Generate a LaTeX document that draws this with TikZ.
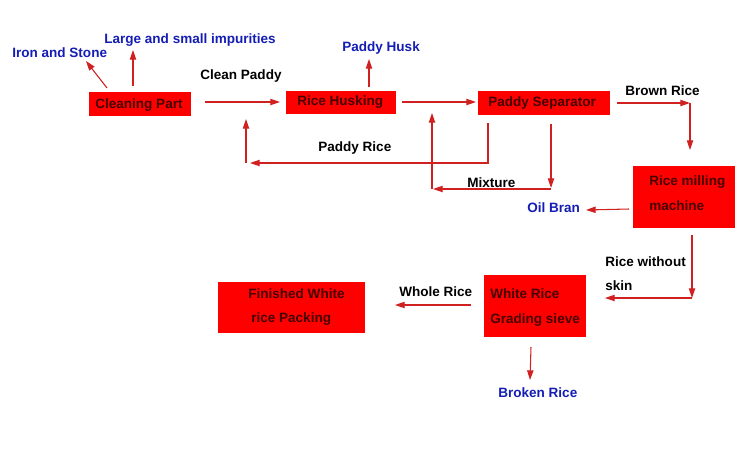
\documentclass[tikz,border=0pt]{standalone}
\usepackage{fontspec}
\setmainfont{Liberation Sans}
\usetikzlibrary{arrows.meta}
\definecolor{boxred}{RGB}{255,0,0}
\definecolor{linered}{RGB}{208,32,32}
\definecolor{lblblue}{RGB}{20,30,180}
\definecolor{boxtxt}{RGB}{70,0,0}
\begin{document}
\begin{tikzpicture}[x=0.02cm,y=-0.02cm,
  box/.style={draw=none,fill=boxred,inner sep=0pt,anchor=center},
  btxt/.style={text=boxtxt,font=\bfseries\fontsize{7.7}{14.2}\selectfont,anchor=west,inner sep=0pt,align=left},
  blk/.style={text=black,font=\bfseries\fontsize{7.7}{13.6}\selectfont,anchor=west,inner sep=0pt,align=left},
  blu/.style={text=lblblue,font=\bfseries\fontsize{7.7}{13.6}\selectfont,anchor=west,inner sep=0pt,align=left},
  arr/.style={draw=linered,line width=0.6pt,-{Triangle[length=5.5pt,width=3.6pt]}}]
\useasboundingbox (0,0) rectangle (750,450);
\fill[white] (0,0) rectangle (750,450);

% boxes
\node[box,minimum width=2.04cm,minimum height=0.48cm] (clean) at (140,104) {};
\node[box,minimum width=2.2cm,minimum height=0.46cm] (husk) at (341,102.5) {};
\node[box,minimum width=2.64cm,minimum height=0.48cm] (sep) at (544,103) {};
\node[box,minimum width=2.04cm,minimum height=1.24cm] (mill) at (684,197) {};
\node[box,minimum width=2.04cm,minimum height=1.24cm] (grade) at (535,306) {};
\node[box,minimum width=2.94cm,minimum height=1.02cm] (pack) at (291.5,307.5) {};

% box texts
\node[btxt] (tclean) at (95,105) {Cleaning Part};
\node[btxt] (thusk) at (297,102) {Rice Husking};
\node[btxt] (tsep) at (488,103) {Paddy Separator};
\node[btxt] (tmill) at (649,193.5) {Rice milling\\machine};
\node[btxt] (tgrade) at (490,307.5) {White Rice\\Grading sieve};
\node[btxt] (tpack1) at (248,294) {Finished White};
\node[btxt] (tpack2) at (251,319) {rice Packing};

% labels
\node[blu] (liron) at (12,53) {Iron and Stone};
\node[blu] (llarge) at (104,40) {Large and small impurities};
\node[blk] (lclean) at (200,76) {Clean Paddy};
\node[blu] (lhusk) at (342,48) {Paddy Husk};
\node[blk] (lbrown) at (625,91) {Brown Rice};
\node[blk] (lpaddy) at (318,148) {Paddy Rice};
\node[blk] (lmix) at (467,183) {Mixture};
\node[blu] (loil) at (527,208) {Oil Bran};
\node[blk] (lskin) at (605,274) {Rice without\\skin};
\node[blk] (lwhole) at (399,292) {Whole Rice};
\node[blu] (lbroken) at (498,393) {Broken Rice};

% connector end points
\coordinate (i1) at (107,88);  \coordinate (i2) at (86,61);
\coordinate (g1) at (133,86);  \coordinate (g2) at (133,50);
\coordinate (c1) at (205,102); \coordinate (c2) at (280,102);
\coordinate (h1) at (402,102); \coordinate (h2) at (476,102);
\coordinate (hu1) at (369,87); \coordinate (hu2) at (369,59);
\coordinate (b1) at (617,103); \coordinate (b2) at (690,103); \coordinate (b3) at (690,150);
\coordinate (p1) at (488,123); \coordinate (p2) at (250,163);
\coordinate (p3) at (246,163); \coordinate (p4) at (246,119);
\coordinate (m1) at (551,124); \coordinate (m2) at (551,188);
\coordinate (m3) at (433,189); \coordinate (m4) at (432,189); \coordinate (m5) at (432,113);
\coordinate (o1) at (629,209); \coordinate (o2) at (586,210);
\coordinate (s1) at (692,235); \coordinate (s2) at (692,298); \coordinate (s3) at (605,298);
\coordinate (w1) at (471,305); \coordinate (w2) at (395,305);
\coordinate (k1) at (531,347); \coordinate (k2) at (530,380);

% connectors
\draw[arr] (i1) -- (i2);
\draw[arr] (g1) -- (g2);
\draw[arr] (c1) -- (c2);
\draw[arr] (h1) -- (h2);
\draw[arr] (hu1) -- (hu2);
\draw[arr] (b1) -- (b2);
\draw[arr] (b2) -- (b3);
\draw[arr] (p1) |- (p2);
\draw[arr] (p3) -- (p4);
\draw[arr] (m1) -- (m2);
\draw[arr] (m2 |- m3) -- (m3);
\draw[arr] (m4) -- (m5);
\draw[arr] (o1) -- (o2);
\draw[arr] (s1) -- (s2);
\draw[arr] (s2) -- (s3);
\draw[arr] (w1) -- (w2);
\draw[arr] (k1) -- (k2);
\end{tikzpicture}
\end{document}
